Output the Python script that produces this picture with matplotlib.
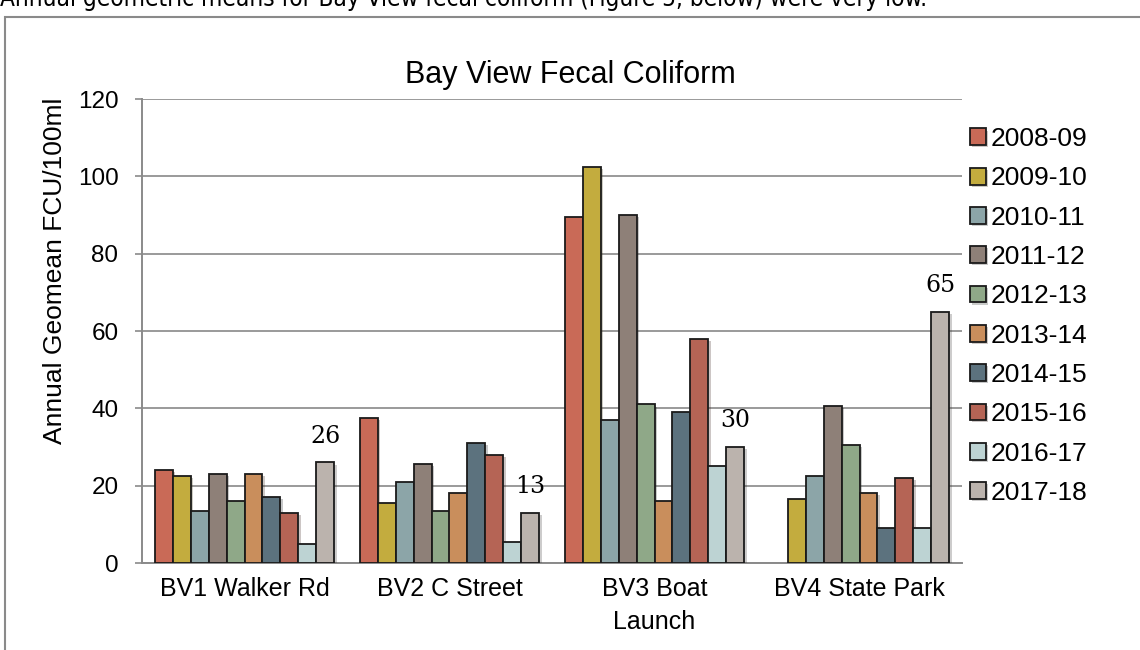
import numpy as np
import matplotlib
matplotlib.use("Agg")
import matplotlib.pyplot as plt
from matplotlib.patches import Rectangle
import matplotlib.patheffects as pe

sites = ["BV1 Walker Rd", "BV2 C Street", "BV3 Boat\nLaunch", "BV4 State Park"]
seasons = ["2008-09", "2009-10", "2010-11", "2011-12", "2012-13",
           "2013-14", "2014-15", "2015-16", "2016-17", "2017-18"]

# Annual geomean FCU/100ml per season, one value per site
s2008_09 = [24, 37.5, 89.5, 0]
s2009_10 = [22.5, 15.5, 102.5, 16.5]
s2010_11 = [13.5, 21, 37, 22.5]
s2011_12 = [23, 25.5, 90, 40.5]
s2012_13 = [16, 13.5, 41, 30.5]
s2013_14 = [23, 18, 16, 18]
s2014_15 = [17, 31, 39, 9]
s2015_16 = [13, 28, 58, 22]
s2016_17 = [5, 5.5, 25, 9]
s2017_18 = [26, 13, 30, 65]

series = [s2008_09, s2009_10, s2010_11, s2011_12, s2012_13,
          s2013_14, s2014_15, s2015_16, s2016_17, s2017_18]

colors = ["#C96A57", "#C3AC3E", "#8CA5A8", "#8E8078", "#8FA888",
          "#C98E5C", "#5C727E", "#B56455", "#BDD3D3", "#BBB3AD"]

SANS = "Liberation Sans"

fig = plt.figure(figsize=(11.4, 6.5), dpi=100)
ax = fig.add_axes([142 / 1140, 1 - 563 / 650, 820 / 1140, 464 / 650])

# outer chart frame
fig.patches.append(Rectangle((5 / 1140, -0.05), 1.2, 1 - 17 / 650 + 0.05,
                             transform=fig.transFigure, fill=False,
                             edgecolor="#8a8a8a", linewidth=1.5))

# lead-in sentence above the chart
fig.text(0.0, 1 - 6 / 650,
         "Annual geometric means for Bay View fecal coliform (Figure 5, below) were very low.",
         ha="left", va="baseline", fontsize=17.5, family="DejaVu Sans",
         fontstretch="condensed", color="black")

x = np.arange(len(sites))
n = len(seasons)
bw = 0.878 / n
shadow = [pe.SimplePatchShadow(offset=(1.5, -1.5), alpha=0.25), pe.Normal()]
for i, (vals, c, lab) in enumerate(zip(series, colors, seasons)):
    pos = x - 0.439 + bw * (i + 0.5)
    bars = ax.bar(pos, vals, width=bw, color=c, edgecolor="#1a1a1a",
                  linewidth=1.3, label=lab, zorder=3)
    for b, v in zip(bars, vals):
        if v == 0:
            b.set_visible(False)
        b.set_path_effects(shadow)
    if lab == "2017-18":
        for p, v in zip(pos, vals):
            ax.annotate(f"{v:g}", (p, v), xytext=(0, 19), textcoords="offset points",
                        ha="center", va="center", fontsize=17,
                        family="DejaVu Serif", color="black")

ax.set_xlim(-0.5, len(sites) - 0.5)
ax.set_ylim(0, 120)
ax.set_yticks(np.arange(0, 121, 20))
ax.yaxis.grid(True, color="#9a9a9a", linewidth=1.4, zorder=0)
ax.set_axisbelow(True)
for s in ["top", "right"]:
    ax.spines[s].set_visible(False)
ax.spines["left"].set_color("#8a8a8a")
ax.spines["left"].set_linewidth(1.4)
ax.spines["bottom"].set_color("#8a8a8a")
ax.spines["bottom"].set_linewidth(1.4)
ax.tick_params(axis="y", length=5, width=1.2, color="#8a8a8a",
               labelsize=17.5, pad=12)
ax.tick_params(axis="x", length=0, labelsize=18, pad=10)
ax.set_xticks(x)
ax.set_xticklabels(sites, linespacing=1.5)
for t in ax.get_xticklabels() + ax.get_yticklabels():
    t.set_family(SANS)

fig.text(55 / 1140, 1 - 271 / 650, "Annual Geomean FCU/100ml", rotation=90,
         ha="center", va="center", fontsize=19, family=SANS)
fig.text(570 / 1140, 1 - 75 / 650, "Bay View Fecal Coliform",
         ha="center", va="center", fontsize=22, family=SANS)

leg = ax.legend(loc="center left", bbox_to_anchor=(970 / 1140, 1 - 316 / 650),
                bbox_transform=fig.transFigure, frameon=False,
                prop={"family": SANS, "size": 19},
                handlelength=0.6, handleheight=0.6, handletextpad=0.2,
                labelspacing=0.58, borderaxespad=0, borderpad=0)

fig.savefig("out.png", dpi=100)
